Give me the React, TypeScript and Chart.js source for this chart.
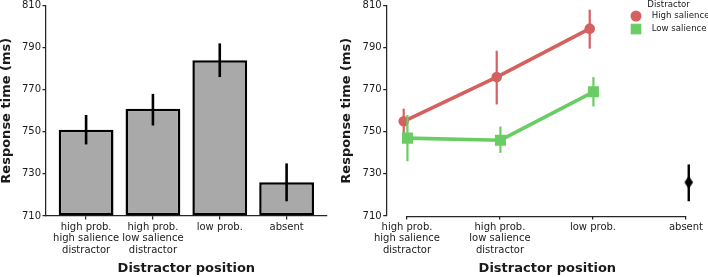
import React, { useEffect, useRef } from 'react';
import { Chart, registerables } from 'chart.js';

Chart.register(...registerables);

// ---------- data ----------
const categories: string[][] = [
  ['high prob.', 'high salience', 'distractor'],
  ['high prob.', 'low salience', 'distractor'],
  ['low prob.'],
  ['absent'],
];
const yTicks = [710, 730, 750, 770, 790, 810];

// left panel: bars
const barMeans = [751, 761, 784, 726];
const barLow = [744, 753, 776, 717];
const barHigh = [758, 768, 792, 735];

// right panel: point plot
const seriesLabels = ['High salience', 'Low salience'];
const highSalMeans = [755, 776, 799];
const highSalLow = [749, 763, 789.5];
const highSalHigh = [761, 788.5, 808];
const lowSalMeans = [747, 746, 769];
const lowSalLow = [736, 740, 762];
const lowSalHigh = [758, 752.5, 776];
const absentMean = [726];
const absentLow = [717];
const absentHigh = [734.5];

// ---------- style ----------
const FONT = 'DejaVu Sans';
const TEXT = '#1a1a1a';
const AX = '#262626';
const BAR_GRAY = '#a9a9a9';
const RED = '#d65f5f';
const GREEN = '#6acc64';
const DODGE = [-0.035, 0.005];
const ABSENT_DODGE = 0.03;

function drawErr(chart: any, dsIndex: number) {
  const ds = chart.data.datasets[dsIndex];
  if (!ds || !ds.errLow) return;
  const meta = chart.getDatasetMeta(dsIndex);
  const ys = chart.scales.y;
  const ctx = chart.ctx;
  ctx.save();
  ctx.strokeStyle = ds.errColor;
  ctx.lineWidth = ds.errWidth;
  ctx.lineCap = 'butt';
  meta.data.forEach((el: any, i: number) => {
    ctx.beginPath();
    ctx.moveTo(el.x, ys.getPixelForValue(ds.errLow[i]));
    ctx.lineTo(el.x, ys.getPixelForValue(ds.errHigh[i]));
    ctx.stroke();
  });
  ctx.restore();
}

const errAfterPlugin = {
  id: 'errAfter',
  afterDatasetDraw(chart: any, args: any) {
    drawErr(chart, args.index);
  },
};
const errBeforePlugin = {
  id: 'errBefore',
  beforeDatasetDraw(chart: any, args: any) {
    drawErr(chart, args.index);
  },
};
const trimAxisPlugin = {
  id: 'trimAxis',
  beforeDatasetsDraw(chart: any) {
    const xs = chart.scales.x;
    const y = Math.round(chart.chartArea.bottom) + 0.5;
    const ctx = chart.ctx;
    ctx.save();
    ctx.strokeStyle = AX;
    ctx.lineWidth = 1.25;
    ctx.beginPath();
    ctx.moveTo(xs.getPixelForValue(0), y);
    ctx.lineTo(xs.getPixelForValue(categories.length - 1), y);
    ctx.stroke();
    ctx.restore();
  },
};
// place legend in the upper right, as in the reference (chart coords)
const legendPlacePlugin = {
  id: 'legendPlace',
  afterLayout(chart: any) {
    const lg = chart.legend;
    if (!lg) return;
    lg.left = 280.2;
    lg.top = 2;
    lg.width = 96.8;
    lg.right = lg.left + lg.width;
    lg.bottom = lg.top + 60;
  },
};

function makeCanvas(w: number, h: number, draw: (c: CanvasRenderingContext2D) => void) {
  const c = document.createElement('canvas');
  c.width = w;
  c.height = h;
  const ctx = c.getContext('2d')!;
  draw(ctx);
  return c;
}

const tickFont = { family: FONT, size: 10, lineHeight: 1.15 };
const titleFont = { family: FONT, size: 13, weight: 'bold' as const, lineHeight: 1.0 };

function xScale(min: number, max: number, trimmed: boolean) {
  return {
    type: 'linear' as const,
    min,
    max,
    offset: false,
    afterBuildTicks: (s: any) => {
      s.ticks = categories.map((_, i) => ({ value: i }));
    },
    afterFit: (s: any) => {
      s.height = 61;
      s.paddingLeft = 0;
      s.paddingRight = 0;
    },
    ticks: {
      autoSkip: false,
      maxRotation: 0,
      minRotation: 0,
      padding: 2,
      color: TEXT,
      font: tickFont,
      callback: (v: any) => categories[Math.round(Number(v))] ?? '',
    },
    grid: { display: true, offset: false, drawOnChartArea: false, drawTicks: true, tickLength: 3.5, color: AX, lineWidth: 1.25 },
    border: { display: !trimmed, color: AX, width: 1.25 },
    title: { display: true, text: 'Distractor position', color: TEXT, font: titleFont, padding: { top: 0, bottom: 1.5 } },
  };
}

function yScale(width: number) {
  return {
    type: 'linear' as const,
    min: 710,
    max: 810,
    afterBuildTicks: (s: any) => {
      s.ticks = yTicks.map((v) => ({ value: v }));
    },
    afterFit: (s: any) => {
      s.width = width;
    },
    ticks: { padding: 1.5, color: TEXT, font: { family: FONT, size: 10 } },
    grid: { display: true, drawOnChartArea: false, drawTicks: true, tickLength: 3.5, color: AX, lineWidth: 1.25 },
    border: { display: true, color: AX, width: 1.25 },
    title: { display: true, text: 'Response time (ms)', color: TEXT, font: titleFont, padding: { top: 0, bottom: 0 } },
  };
}

export default function App() {
  const leftRef = useRef<HTMLCanvasElement>(null);
  const rightRef = useRef<HTMLCanvasElement>(null);

  useEffect(() => {
    const left = new Chart(leftRef.current!, {
      type: 'bar',
      data: {
        datasets: [
          {
            data: barMeans.map((v, i) => ({ x: i, y: v })),
            backgroundColor: BAR_GRAY,
            borderColor: '#000',
            borderWidth: 2.5,
            borderSkipped: false,
            barPercentage: 0.82,
            categoryPercentage: 1,
            base: 710,
            errLow: barLow,
            errHigh: barHigh,
            errColor: '#000',
            errWidth: 2.6,
          } as any,
        ],
      },
      options: {
        animation: false,
        responsive: false,
        events: [],
        layout: { autoPadding: false, padding: { left: 0, right: 13.3, top: 0, bottom: 0 } },
        plugins: { legend: { display: false }, tooltip: { enabled: false } },
        scales: { x: xScale(-0.6, 3.6, false) as any, y: yScale(46) as any },
      },
      plugins: [errAfterPlugin],
    });

    const diamond = makeCanvas(10, 14, (c) => {
      c.fillStyle = '#000';
      c.beginPath();
      c.moveTo(5, 0.5);
      c.lineTo(9.3, 7);
      c.lineTo(5, 13.5);
      c.lineTo(0.7, 7);
      c.closePath();
      c.fill();
    });
    const legCircle = makeCanvas(14, 14, (c) => {
      c.fillStyle = RED;
      c.beginPath();
      c.arc(7, 7, 5.5, 0, Math.PI * 2);
      c.closePath();
      c.fill();
    });
    const legSquare = makeCanvas(14, 14, (c) => {
      c.fillStyle = GREEN;
      c.fillRect(1.7, 1.7, 10.6, 10.6);
    });
    const legImgs = [legCircle, legSquare];

    const right = new Chart(rightRef.current!, {
      type: 'line',
      data: {
        datasets: [
          {
            label: seriesLabels[0],
            data: highSalMeans.map((v, i) => ({ x: i + DODGE[0], y: v })),
            borderColor: RED,
            backgroundColor: RED,
            borderWidth: 3.6,
            pointStyle: 'circle',
            pointRadius: 5.3,
            pointBorderWidth: 0,
            pointBackgroundColor: RED,
            order: 2,
            errLow: highSalLow,
            errHigh: highSalHigh,
            errColor: RED,
            errWidth: 2.2,
          } as any,
          {
            label: seriesLabels[1],
            data: lowSalMeans.map((v, i) => ({ x: i + DODGE[1], y: v })),
            borderColor: GREEN,
            backgroundColor: GREEN,
            borderWidth: 3.6,
            pointStyle: 'rect',
            pointRadius: 7.8,
            pointBorderWidth: 0,
            pointBackgroundColor: GREEN,
            order: 1,
            errLow: lowSalLow,
            errHigh: lowSalHigh,
            errColor: GREEN,
            errWidth: 2.2,
          } as any,
          {
            label: 'absent',
            data: absentMean.map((v) => ({ x: categories.length - 1 + ABSENT_DODGE, y: v })),
            showLine: false,
            borderColor: '#000',
            backgroundColor: '#000',
            pointStyle: diamond,
            pointRadius: 6,
            order: 0,
            errLow: absentLow,
            errHigh: absentHigh,
            errColor: '#000',
            errWidth: 2.4,
          } as any,
        ],
      },
      options: {
        animation: false,
        responsive: false,
        events: [],
        layout: { autoPadding: false, padding: 0 },
        plugins: {
          tooltip: { enabled: false },
          legend: {
            display: true,
            position: 'chartArea',
            align: 'start',
            title: { display: true, text: 'Distractor', color: TEXT, position: 'center', font: { family: FONT, size: 8.6, lineHeight: 0.85 }, padding: 0 },
            labels: {
              usePointStyle: true,
              pointStyleWidth: 22.8,
              padding: 4.4,
              color: TEXT,
              font: { family: FONT, size: 8.6 },
              generateLabels: (chart: any) => {
                const items = (Chart.defaults.plugins.legend.labels as any).generateLabels(chart);
                return items
                  .filter((it: any) => it.datasetIndex < seriesLabels.length)
                  .sort((a: any, b: any) => a.datasetIndex - b.datasetIndex)
                  .map((it: any) => ({ ...it, pointStyle: legImgs[it.datasetIndex], lineWidth: 0 }));
              },
            },
          } as any,
        },
        scales: { x: xScale(-0.218, 3.237, true) as any, y: yScale(46.7) as any },
      },
      plugins: [errBeforePlugin, trimAxisPlugin, legendPlacePlugin],
    });

    return () => {
      left.destroy();
      right.destroy();
    };
  }, []);

  return (
    <div style={{ position: 'absolute', left: 0, top: 0, width: 708, height: 277, overflow: 'hidden', background: '#fff' }}>
      <canvas ref={leftRef} width={340} height={279} style={{ position: 'absolute', left: 0, top: -2 }} />
      <canvas ref={rightRef} width={368} height={279} style={{ position: 'absolute', left: 340, top: -2 }} />
    </div>
  );
}
